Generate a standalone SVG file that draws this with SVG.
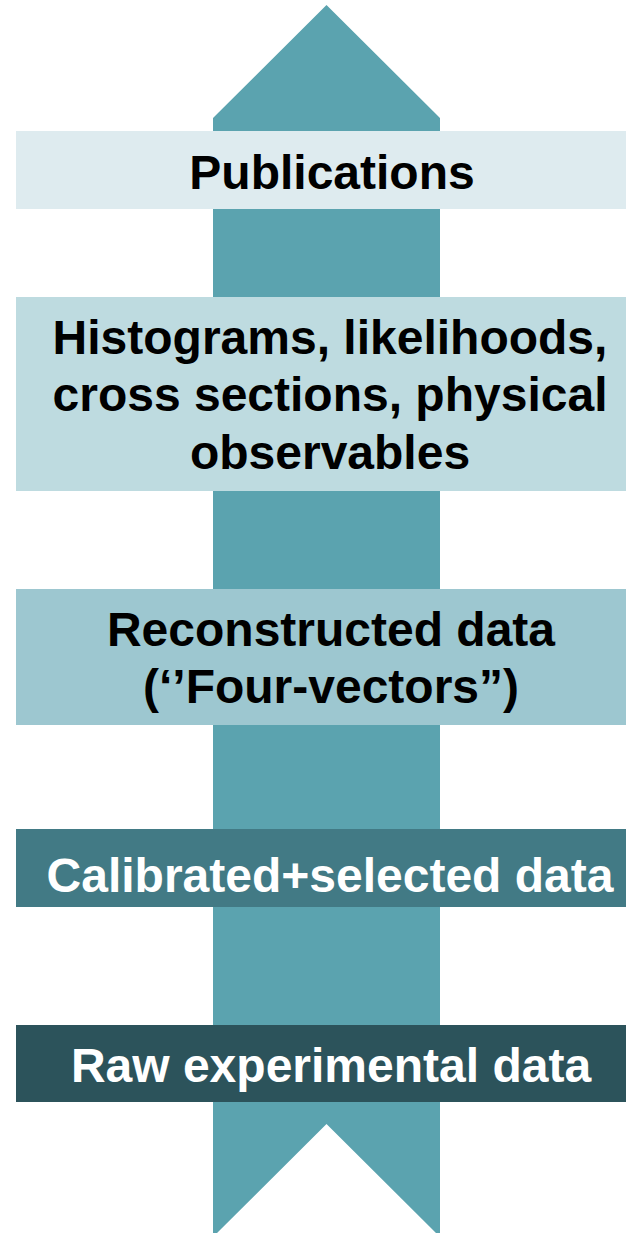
<svg xmlns="http://www.w3.org/2000/svg" width="626" height="1233" viewBox="0 0 626 1233">
<style>
.t{font-family:"Liberation Sans",Arial,sans-serif;font-weight:bold;font-size:48px;text-anchor:middle}
.dk{fill:#000}
.lt{fill:#fff}
</style>
<rect width="626" height="1233" fill="#fff"/>
<g id="connectors">
<path id="arrow" d="M326.5,5 L440,118 L440,1233 L436,1233 L326.5,1124 L217,1233 L213,1233 L213,118 Z" fill="#5BA3AF"/>
</g>
<g id="publications">
<rect x="16" y="131" width="610" height="78" fill="#DEEBEF"/>
<text class="t dk" x="332" y="189">Publications</text>
</g>
<g id="histograms">
<rect x="16" y="297" width="610" height="194" fill="#BEDBE0"/>
<text class="t dk" x="330" y="354">Histograms, likelihoods,</text>
<text class="t dk" x="330" y="411">cross sections, physical</text>
<text class="t dk" x="330" y="469">observables</text>
</g>
<g id="reconstructed">
<rect x="16" y="589" width="610" height="136" fill="#9DC7D0"/>
<text class="t dk" x="331" y="646">Reconstructed data</text>
<text class="t dk" x="331" y="703">(‘’Four-vectors”)</text>
</g>
<g id="calibrated">
<rect x="16" y="829" width="610" height="78" fill="#427A85"/>
<text class="t lt" x="330" y="892">Calibrated+selected data</text>
</g>
<g id="raw">
<rect x="16" y="1025" width="610" height="77" fill="#2C535B"/>
<text class="t lt" x="331" y="1082">Raw experimental data</text>
</g>
</svg>
